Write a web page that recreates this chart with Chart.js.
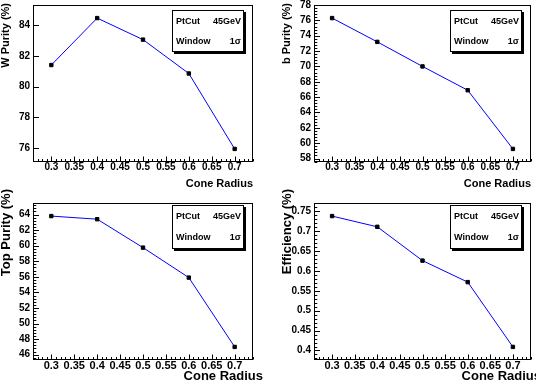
<!DOCTYPE html>
<html>
<head>
<meta charset="utf-8">
<script src="https://cdn.jsdelivr.net/npm/chart.js@4.4.0/dist/chart.umd.min.js"></script>
<style>
  html, body { margin: 0; padding: 0; background: #fff; }
  #wrap { position: relative; width: 536px; height: 384px; overflow: hidden; }
  canvas { position: absolute; }
</style>
</head>
<body>
<div id="wrap">
  <canvas id="wPur" width="268" height="192" style="left:0;top:0"></canvas>
  <canvas id="bPur" width="268" height="192" style="left:268px;top:0"></canvas>
  <canvas id="topPur" width="268" height="204" style="left:0;top:180px"></canvas>
  <canvas id="eff" width="268" height="204" style="left:268px;top:180px"></canvas>
</div>
<script>
// values
const coneRadius = [0.3, 0.4, 0.5, 0.6, 0.7];
const wPurity = [81.4, 84.45, 83.05, 80.85, 75.95];
const bPurity = [76.3, 73.2, 70.0, 66.9, 59.25];
const topPurity = [63.8, 63.4, 59.75, 55.9, 47.0];
const efficiency = [0.738, 0.711, 0.626, 0.572, 0.409];

// labelled ticks
const xTicks = [0.3, 0.35, 0.4, 0.45, 0.5, 0.55, 0.6, 0.65, 0.7];
const wTicks = [76, 78, 80, 82, 84];
const bTicks = [58, 60, 62, 64, 66, 68, 70, 72, 74, 76, 78];
const topTicks = [46, 48, 50, 52, 54, 56, 58, 60, 62, 64];
const effTicks = [0.4, 0.45, 0.5, 0.55, 0.6, 0.65, 0.7, 0.75];

const paveRows = [['PtCut', '45GeV'], ['Window', '1\u03c3']];

const FONT = "'Liberation Sans', Arial, Helvetica, sans-serif";

// ROOT style range: 10% margin on each side
const padRange = vals => {
    const lo = Math.min(...vals), hi = Math.max(...vals), d = (hi - lo) * 0.1;
    return [lo - d, hi + d];
};
const onStep = (v, s) => Math.abs(v / s - Math.round(v / s)) < 1e-6;
const labelFor = (v, list) => {
    const t = list.find(t => Math.abs(t - v) < 1e-6);
    return t === undefined ? '' : String(t);
};

const rootFrame = {
    id: 'rootFrame',
    afterDraw(chart, args, o) {
        const {ctx, chartArea: a, scales: {x, y}} = chart;
        ctx.save();
        ctx.strokeStyle = '#000';
        ctx.lineWidth = 1;
        const L = Math.round(a.left) + 0.5, R = Math.round(a.right) - 0.5;
        const T = Math.round(a.top) + 0.5, B = Math.round(a.bottom) - 0.5;
        ctx.strokeRect(L, T, R - L, B - T);

        // inward ticks, like ROOT
        ctx.beginPath();
        x.ticks.forEach(t => {
            const len = labelFor(t.value, o.xLabels) ? 5 : onStep(t.value, o.xMinor) ? 2.5 : 0;
            if (!len) return;
            const px = Math.round(x.getPixelForValue(t.value)) + 0.5;
            ctx.moveTo(px, B); ctx.lineTo(px, B - len);
        });
        y.ticks.forEach(t => {
            const len = labelFor(t.value, o.yLabels) ? 5.5 : (o.yMinor && onStep(t.value, o.yMinor)) ? 2.8 : 0;
            if (!len) return;
            const py = Math.round(y.getPixelForValue(t.value)) + 0.5;
            ctx.moveTo(L, py); ctx.lineTo(L + len, py);
        });
        ctx.stroke();

        // axis titles
        ctx.fillStyle = '#000';
        ctx.font = 'bold ' + o.titleSize + 'px ' + FONT;
        ctx.textAlign = 'right';
        ctx.textBaseline = 'alphabetic';
        ctx.fillText(o.xTitle, a.right + o.xTitleDx, o.xTitleBase);
        ctx.save();
        ctx.translate(o.yTitleX, o.yTitleEnd);
        ctx.rotate(-Math.PI / 2);
        ctx.textBaseline = 'middle';
        ctx.fillText(o.yTitle, 0, 0);
        ctx.restore();

        // the PtCut / Window box with its shadow
        const bw = 72, bh = o.paveH;
        const bx = Math.round(a.right - 81), by = Math.round(a.top + o.paveDy);
        ctx.fillStyle = '#000';
        ctx.fillRect(bx + 2, by + 2, bw, bh);
        ctx.fillStyle = '#fff';
        ctx.fillRect(bx, by, bw, bh);
        ctx.strokeRect(bx + 0.5, by + 0.5, bw - 1, bh - 1);
        ctx.fillStyle = '#000';
        ctx.font = 'bold 9px ' + FONT;
        ctx.textBaseline = 'middle';
        paveRows.forEach((row, i) => {
            const ty = by + bh * (i === 0 ? 0.27 : 0.75);
            ctx.textAlign = 'left';
            ctx.fillText(row[0], bx + 4, ty);
            ctx.textAlign = 'right';
            ctx.fillText(row[1], bx + bw - 3, ty);
        });
        ctx.restore();
    }
};

function makePanel(id, values, yLabels, yMinor, p) {
    const [xmin, xmax] = padRange(coneRadius);
    const [ymin, ymax] = padRange(values);
    new Chart(document.getElementById(id), {
        type: 'line',
        data: {
            datasets: [{
                data: coneRadius.map((r, i) => ({x: r, y: values[i]})),
                borderColor: '#0000ff',
                borderWidth: 1,
                tension: 0,
                pointStyle: 'rect',
                pointRadius: 2.4,
                pointBackgroundColor: '#000',
                pointBorderColor: '#000',
                pointBorderWidth: 1,
                clip: false
            }]
        },
        options: {
            responsive: false,
            animation: false,
            devicePixelRatio: 1,
            layout: {padding: {left: 0, right: p.padRight, top: p.padTop, bottom: 0}},
            plugins: {
                legend: {display: false},
                tooltip: {enabled: false},
                rootFrame: {
                    xLabels: xTicks, xMinor: 0.01,
                    yLabels: yLabels, yMinor: yMinor,
                    xTitle: 'Cone Radius', yTitle: p.yTitle,
                    titleSize: p.titleSize, xTitleDx: p.xTitleDx, xTitleBase: p.xTitleBase,
                    yTitleX: p.yTitleX, yTitleEnd: p.yTitleEnd,
                    paveH: p.paveH, paveDy: p.paveDy
                }
            },
            scales: {
                x: {
                    type: 'linear', min: xmin, max: xmax,
                    grid: {display: false, drawTicks: false},
                    border: {display: false},
                    ticks: {
                        stepSize: 0.01, autoSkip: false, includeBounds: false,
                        maxRotation: 0, minRotation: 0,
                        padding: p.xPad, color: '#000',
                        font: {family: FONT, weight: 'bold', size: p.xTickSize, lineHeight: 1},
                        callback: v => labelFor(v, xTicks)
                    },
                    afterFit: s => { s.height = p.xHeight; s.paddingLeft = 0; s.paddingRight = 0; }
                },
                y: {
                    type: 'linear', min: ymin, max: ymax,
                    grid: {display: false, drawTicks: false},
                    border: {display: false},
                    ticks: {
                        stepSize: p.yStep, autoSkip: false, includeBounds: false,
                        padding: 3, color: '#000',
                        font: {family: FONT, weight: 'bold', size: 10, lineHeight: 1},
                        callback: v => labelFor(v, yLabels)
                    },
                    afterFit: s => { s.width = p.yWidth; s.paddingTop = 0; s.paddingBottom = 0; }
                }
            }
        },
        plugins: [rootFrame]
    });
}

const topRow = {padTop: 4.5, xHeight: 30, xPad: 0, xTickSize: 10, titleSize: 11,
    xTitleDx: 0, xTitleBase: 186.5, yTitleEnd: 3, paveH: 42, paveDy: 4.5};
// bottom canvases start at y=180 so the titles can run above the frame
const bottomRow = {padTop: 23, xHeight: 24, xPad: 0, xTickSize: 11, titleSize: 13,
    xTitleDx: 10, xTitleBase: 200, yTitleEnd: 9, paveH: 44, paveDy: 2};

makePanel('wPur', wPurity, wTicks, 0,
    Object.assign({}, topRow, {yTitle: 'W Purity (%)', yTitleX: 6, yWidth: 33, padRight: 15, yStep: 0.4}));
makePanel('bPur', bPurity, bTicks, 0.4,
    Object.assign({}, topRow, {yTitle: 'b Purity (%)', yTitleX: 19, yWidth: 46, padRight: 2, yStep: 0.4}));
makePanel('topPur', topPurity, topTicks, 0.4,
    Object.assign({}, bottomRow, {yTitle: 'Top Purity (%)', yTitleX: 6, yWidth: 33, padRight: 15, yStep: 0.4}));
makePanel('eff', efficiency, effTicks, 0.01,
    Object.assign({}, bottomRow, {yTitle: 'Efficiency (%)', yTitleX: 19, yWidth: 46, padRight: 2, yStep: 0.01}));
</script>
</body>
</html>
